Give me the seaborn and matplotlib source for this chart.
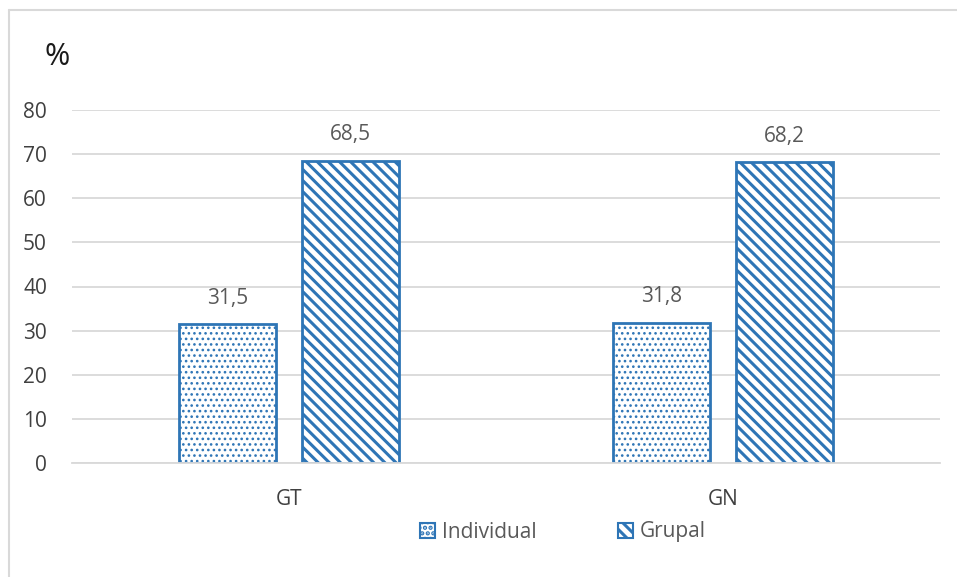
import matplotlib
matplotlib.use("Agg")
import matplotlib.pyplot as plt
from matplotlib.lines import Line2D
from matplotlib.patches import Patch
import seaborn as sns
import pandas as pd

# Data
categories = ["GT", "GN"]
series = ["Individual", "Grupal"]
individual = [31.5, 31.8]
grupal = [68.5, 68.2]
yticks = [0, 10, 20, 30, 40, 50, 60, 70, 80]

df = pd.DataFrame({
    "grupo": categories * 2,
    "tipo": [series[0]] * len(categories) + [series[1]] * len(categories),
    "valor": individual + grupal,
})

sns.set_theme(style="white")
plt.rcParams["font.family"] = ["Open Sans", "DejaVu Sans"]
plt.rcParams["hatch.linewidth"] = 2.2

BLUE = "#2E75B6"
GRID = "#D9D9D9"
TEXT = "#595959"

fig = plt.figure(figsize=(9.57, 5.77), dpi=100)
ax = fig.add_axes([72 / 957, 1 - 463 / 577, 868 / 957, 353 / 577])

sns.barplot(data=df, x="grupo", y="valor", hue="tipo", order=categories,
            hue_order=series, width=0.568, gap=0.213, ax=ax,
            palette=["white", "white"], edgecolor=BLUE, linewidth=2,
            legend=False, errorbar=None)

hatches = ["...", "\\\\\\"]
hatch_widths = [1.1, 2.2]
for cont, h, hw in zip(ax.containers, hatches, hatch_widths):
    for bar in cont:
        bar.set_hatch(h)
        bar.set_edgecolor(BLUE)
        bar.set_facecolor("white")
        if hasattr(bar, "set_hatch_linewidth"):
            bar.set_hatch_linewidth(hw)
    labels = [f"{v:.1f}".replace(".", ",") for v in cont.datavalues]
    ax.bar_label(cont, labels=labels, padding=11, fontsize=15, color=TEXT)

ax.set_xlim(-0.5, 1.5)
ax.set_ylim(0, 80)
ax.set_yticks(yticks)
ax.yaxis.grid(True, color=GRID, linewidth=1.3)
ax.set_axisbelow(True)
for s in ["top", "right", "left"]:
    ax.spines[s].set_visible(False)
ax.spines["bottom"].set_color(GRID)
ax.spines["bottom"].set_linewidth(1.3)
ax.tick_params(axis="y", length=0, pad=18, labelsize=15, labelcolor="#404040")
ax.tick_params(axis="x", length=0, pad=19, labelsize=15, labelcolor="#404040")
ax.set_xlabel("")
ax.set_ylabel("")

fig.text(57 / 957, 1 - 57 / 577, "%", fontsize=22, color="#1a1a1a",
         ha="center", va="center")

handles = [Patch(facecolor="white", edgecolor=BLUE, hatch=h, linewidth=1.5)
           for h in hatches]
fig.legend(handles, series, loc="center", bbox_to_anchor=(563 / 957, 1 - 532 / 577),
           ncol=2, frameon=False, fontsize=15, labelcolor=TEXT,
           handlelength=0.7, handleheight=0.7, handletextpad=0.35,
           columnspacing=3.9)

# outer frame
fig.add_artist(Line2D([9 / 957, 1.0], [1 - 10 / 577, 1 - 10 / 577],
                      color=GRID, linewidth=1.5, transform=fig.transFigure))
fig.add_artist(Line2D([9 / 957, 9 / 957], [0, 1 - 10 / 577],
                      color=GRID, linewidth=1.5, transform=fig.transFigure))

fig.savefig("out.png", dpi=100, facecolor="white")
